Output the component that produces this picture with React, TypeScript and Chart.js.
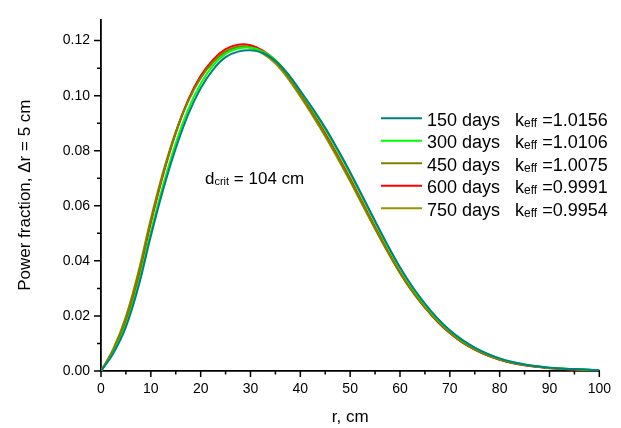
import React, { useEffect, useRef } from "react";
import { Chart, registerables } from "chart.js";

Chart.register(...registerables);

// ---------------- data ----------------
const radius = [
  0, 2.5, 5, 7.5, 10, 12.5, 15, 17.5, 20, 22.5, 25, 27.5, 30, 32.5, 35, 37.5, 40,
  42.5, 45, 47.5, 50, 52.5, 55, 57.5, 60, 62.5, 65, 67.5, 70, 72.5, 75, 77.5, 80,
  82.5, 85, 87.5, 90, 92.5, 95, 97.5, 100,
];

const power150 = [
  0, 0.0065, 0.016, 0.0305, 0.049, 0.066, 0.0808, 0.0932, 0.1027, 0.1095, 0.114,
  0.116, 0.1165, 0.1155, 0.1127, 0.1079, 0.1018, 0.0953, 0.0883, 0.0805, 0.0722,
  0.0634, 0.0545, 0.0458, 0.0377, 0.0306, 0.0245, 0.0192, 0.0148, 0.0113, 0.0085,
  0.0063, 0.0046, 0.0033, 0.0024, 0.0017, 0.0012, 0.0009, 0.0007, 0.0005, 0.0003,
];

const power300 = [
  0, 0.0068, 0.0168, 0.0318, 0.0505, 0.0677, 0.0827, 0.095, 0.1043, 0.111,
  0.1152, 0.1171, 0.1174, 0.116, 0.113, 0.1079, 0.1016, 0.0948, 0.0877, 0.0799,
  0.0716, 0.0628, 0.054, 0.0453, 0.0373, 0.0302, 0.0241, 0.0189, 0.0146, 0.0111,
  0.0084, 0.0062, 0.0045, 0.0033, 0.0024, 0.0017, 0.0012, 0.0009, 0.0007, 0.0005,
  0.0003,
];

const power450 = [
  0, 0.0078, 0.0192, 0.0352, 0.0545, 0.0718, 0.0865, 0.098, 0.1064, 0.1123,
  0.1161, 0.1178, 0.1177, 0.1158, 0.1123, 0.1069, 0.1003, 0.0932, 0.0858, 0.0778,
  0.0694, 0.0607, 0.052, 0.0436, 0.0358, 0.029, 0.0232, 0.0181, 0.0139, 0.0105,
  0.0079, 0.0058, 0.0042, 0.003, 0.0022, 0.0016, 0.0011, 0.0008, 0.0006, 0.0004,
  0.0003,
];

const power600 = [
  0, 0.007, 0.0178, 0.0338, 0.0538, 0.0715, 0.0865, 0.0985, 0.1072, 0.1131,
  0.1169, 0.1185, 0.1183, 0.1164, 0.1128, 0.1074, 0.1008, 0.0937, 0.0863, 0.0783,
  0.0699, 0.0611, 0.0523, 0.0438, 0.0359, 0.029, 0.0231, 0.018, 0.0138, 0.0104,
  0.0078, 0.0057, 0.0041, 0.0029, 0.0021, 0.0015, 0.001, 0.0007, 0.0005, 0.0004,
  0.0002,
];

const power750 = [
  0, 0.0082, 0.0198, 0.036, 0.0553, 0.0725, 0.087, 0.0983, 0.1066, 0.1121,
  0.1159, 0.1177, 0.1174, 0.1153, 0.1117, 0.1063, 0.0997, 0.0926, 0.0852, 0.0772,
  0.0689, 0.0602, 0.0516, 0.0433, 0.0355, 0.0287, 0.023, 0.018, 0.0138, 0.0104,
  0.0078, 0.0058, 0.0042, 0.003, 0.0022, 0.0016, 0.0011, 0.0008, 0.0006, 0.0004,
  0.0003,
];

const seriesValues = [power150, power300, power450, power600, power750];
const seriesLabels = ["150 days", "300 days", "450 days", "600 days", "750 days"];
const keffLabels = ["1.0156", "1.0106", "1.0075", "0.9991", "0.9954"];
const seriesColors = ["#008080", "#00ff00", "#808000", "#ff0000", "#969600"];

const xTitle = "r, cm";
const yTitle = "Power fraction, \u0394r = 5 cm";
const dcritValue = "= 104 cm";

const FONT = "'Liberation Sans', Arial, Helvetica, sans-serif";

// ---------------- plugin: ticks, legend, annotation ----------------
const decorPlugin = {
  id: "decor",
  afterDraw(chart: any) {
    const { ctx, chartArea } = chart;
    const xs = chart.scales.x;
    const ys = chart.scales.y;
    ctx.save();

    // outward major/minor tick marks
    ctx.strokeStyle = "#000";
    ctx.lineWidth = 1.5;
    ctx.beginPath();
    for (let i = 0; i <= 20; i++) {
      const v = i * 5;
      const px = xs.getPixelForValue(v);
      const len = i % 2 === 0 ? 6 : 3.5;
      ctx.moveTo(px, chartArea.bottom);
      ctx.lineTo(px, chartArea.bottom + len);
    }
    for (let i = 0; i <= 12; i++) {
      const v = i * 0.01;
      const py = ys.getPixelForValue(v);
      const len = i % 2 === 0 ? 7 : 4;
      ctx.moveTo(chartArea.left, py);
      ctx.lineTo(chartArea.left - len, py);
    }
    ctx.stroke();

    // legend
    const lineX0 = 381;
    const lineX1 = 422;
    const textX = 427;
    const kX = 515;
    const row0 = 118.3;
    const rowStep = 22.5;
    ctx.fillStyle = "#000";
    ctx.textBaseline = "alphabetic";
    ctx.textAlign = "left";
    for (let i = 0; i < seriesLabels.length; i++) {
      const y = row0 + rowStep * i;
      ctx.strokeStyle = seriesColors[i];
      ctx.lineWidth = 2;
      ctx.beginPath();
      ctx.moveTo(lineX0, y);
      ctx.lineTo(lineX1, y);
      ctx.stroke();
      const base = y + 7.5;
      ctx.font = `18px ${FONT}`;
      ctx.fillText(seriesLabels[i], textX, base);
      ctx.fillText("k", kX, base);
      const kw = ctx.measureText("k").width;
      ctx.font = `12px ${FONT}`;
      ctx.fillText("eff", kX + kw, base + 1);
      const ew = ctx.measureText("eff").width;
      ctx.font = `18px ${FONT}`;
      ctx.fillText(" =" + keffLabels[i], kX + kw + ew, base);
    }

    // d_crit annotation
    const dx = 205;
    const dBase = 184;
    ctx.font = `17px ${FONT}`;
    ctx.fillText("d", dx, dBase);
    const dw = ctx.measureText("d").width;
    ctx.font = `11px ${FONT}`;
    ctx.fillText("crit", dx + dw, dBase + 1);
    const cw = ctx.measureText("crit").width;
    ctx.font = `17px ${FONT}`;
    ctx.fillText(" " + dcritValue, dx + dw + cw, dBase);

    ctx.restore();
  },
};

export default function App() {
  const canvasRef = useRef<HTMLCanvasElement | null>(null);

  useEffect(() => {
    const canvas = canvasRef.current;
    if (!canvas) return;
    const datasets = seriesValues.map((vals, s) => ({
      label: seriesLabels[s],
      data: radius.map((r, i) => ({ x: r, y: vals[i] })),
      borderColor: seriesColors[s],
      backgroundColor: seriesColors[s],
      borderWidth: 2,
      pointRadius: 0,
      fill: false,
      tension: 0.4,
    }));

    const chart = new Chart(canvas, {
      type: "line",
      data: { datasets },
      plugins: [decorPlugin],
      options: {
        animation: false,
        responsive: true,
        maintainAspectRatio: false,
        layout: { padding: { top: 7, right: 18, bottom: 0, left: 0 } },
        plugins: {
          legend: { display: false },
          tooltip: { enabled: false },
        },
        scales: {
          x: {
            type: "linear",
            min: 0,
            max: 100,
            grid: { display: false, drawTicks: false },
            border: { display: true, color: "#000", width: 1.8 },
            ticks: {
              stepSize: 10,
              padding: 10,
              color: "#000",
              font: { family: FONT, size: 14 },
              maxRotation: 0,
              callback: (v: any) => String(v),
            },
            title: {
              display: true,
              text: xTitle,
              color: "#000",
              font: { family: FONT, size: 17 },
              padding: { top: 0, bottom: 0 },
            },
            afterFit: (scale: any) => {
              scale.height = 57;
            },
          },
          y: {
            type: "linear",
            min: 0,
            max: 0.1277,
            grid: { display: false, drawTicks: false },
            border: { display: true, color: "#000", width: 1.8 },
            ticks: {
              stepSize: 0.02,
              includeBounds: false,
              padding: 11,
              color: "#000",
              font: { family: FONT, size: 14 },
              callback: (v: any) => Number(v).toFixed(2),
            },
            title: {
              display: true,
              text: yTitle,
              color: "#000",
              font: { family: FONT, size: 17 },
              padding: { top: 15, bottom: 0 },
            },
            afterFit: (scale: any) => {
              scale.width = 101;
            },
          },
        },
      },
    });
    return () => chart.destroy();
  }, []);

  return (
    <div
      style={{
        position: "fixed",
        left: 0,
        top: 0,
        width: 621,
        height: 428,
        background: "#fff",
      }}
    >
      <canvas ref={canvasRef} />
    </div>
  );
}
